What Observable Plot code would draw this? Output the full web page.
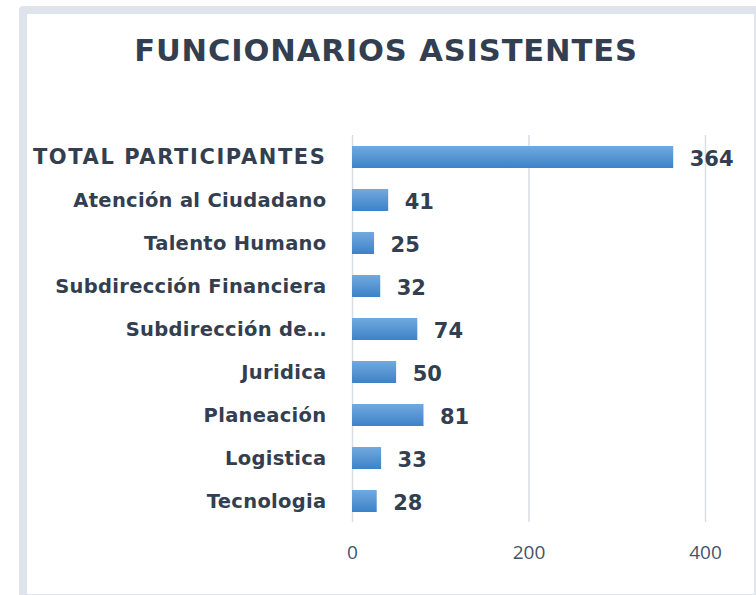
<!DOCTYPE html>
<html><head><meta charset="utf-8">
<script src="https://cdn.jsdelivr.net/npm/d3@7"></script>
<script src="https://cdn.jsdelivr.net/npm/@observablehq/plot@0.6"></script>
<style>
body{margin:0;background:#fff;}
#wrap{position:relative;width:756px;height:595px;overflow:hidden;}
#frame{position:absolute;left:19px;top:6px;width:727px;height:580px;border:8px solid #dfe4ec;border-radius:4px;background:#fff;}
#title{position:absolute;left:0;width:772px;top:33px;text-align:center;font-family:"DejaVu Sans",sans-serif;font-weight:700;font-size:30.5px;color:#333f50;letter-spacing:0.9px;}
#chart{position:absolute;left:0;top:0;}
</style></head>
<body>
<div id="wrap"><div id="frame"></div><div id="title">FUNCIONARIOS ASISTENTES</div><div id="chart"></div></div>
<script>
const categories = ["TOTAL PARTICIPANTES","Atención al Ciudadano","Talento Humano","Subdirección Financiera","Subdirección de…","Juridica","Planeación","Logistica","Tecnologia"];
const values = [364,41,25,32,74,50,81,33,28];
const xTicks = [0,200,400];

const data = categories.map((c,i)=>({cat:c,val:values[i]}));
const ink = "#333f50";
const chart = Plot.plot({
  width:756, height:595,
  marginLeft:352, marginRight:51, marginTop:135, marginBottom:73,
  style:{background:"transparent", overflow:"visible"},
  x:{domain:[0,400]},
  y:{domain:categories, paddingInner:0.49, paddingOuter:0.245},
  marks:[
    Plot.gridX(xTicks,{stroke:"#d9dee6", strokeOpacity:1, strokeWidth:1.5}),
    Plot.barX(data,{x:"val", y:"cat", fill:"#5b9bd5"}),
    Plot.text(data,{x:"val", y:"cat", text:d=>String(d.val), dx:16, dy:2, textAnchor:"start", fontSize:21, fontWeight:"bold", fill:ink, fontFamily:"DejaVu Sans"}),
    Plot.axisY({tickSize:0, tickPadding:26, fontSize:19.5, fontWeight:"bold", fill:ink, fontFamily:"DejaVu Sans", label:null}),
    Plot.axisX({ticks:xTicks, tickSize:0, tickPadding:23, fontSize:19, fill:"#44546a", fontFamily:"Open Sans", fontWeight:400, label:null})
  ]
});
const ns="http://www.w3.org/2000/svg";
const defs=document.createElementNS(ns,"defs");
defs.innerHTML='<linearGradient id="bg" x1="0" y1="0" x2="0" y2="1"><stop offset="0" stop-color="#72a9de"/><stop offset="1" stop-color="#3c82c8"/></linearGradient>';
chart.insertBefore(defs, chart.firstChild);
chart.querySelectorAll('g[aria-label="bar"] rect').forEach(r=>r.setAttribute("fill","url(#bg)"));
chart.querySelectorAll('g[aria-label="y-axis tick label"] text').forEach(t=>{
  const s=t.textContent;
  t.setAttribute("letter-spacing", s===s.toUpperCase() ? "1.6" : "0.3");
  if (s===s.toUpperCase()) t.setAttribute("font-size","21");
});
document.getElementById("chart").appendChild(chart);
</script>
</body></html>
